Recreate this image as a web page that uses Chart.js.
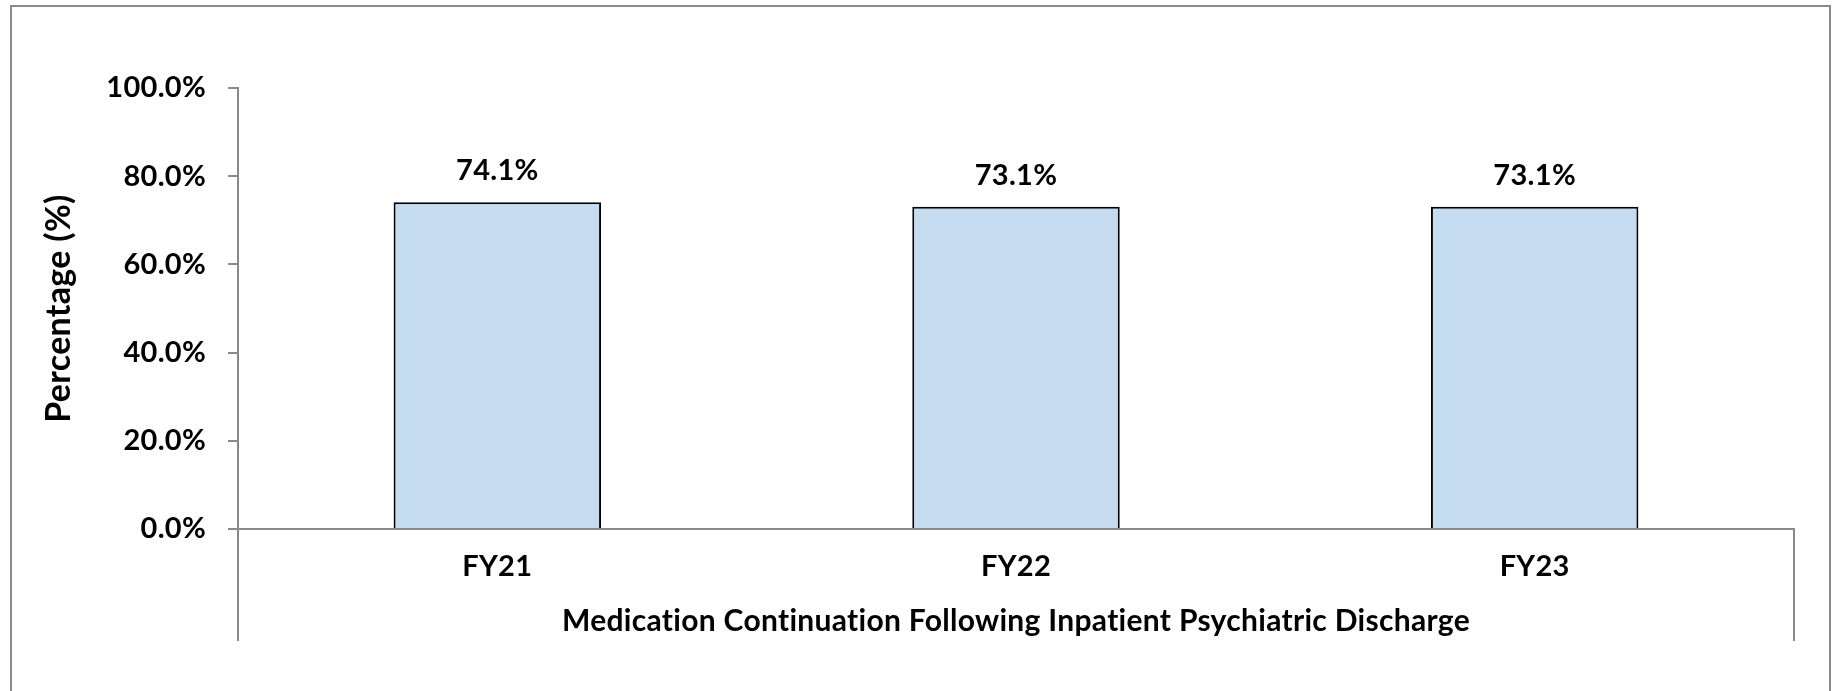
<!DOCTYPE html>
<html>
<head>
<meta charset="utf-8">
<script src="https://cdn.jsdelivr.net/npm/chart.js@4.4.0/dist/chart.umd.min.js"></script>
<style>
    html, body { margin: 0; padding: 0; background: #fff; overflow: hidden; }
    #wrap { position: relative; width: 1837px; height: 691px; }
    #frame {
        position: absolute; left: 10px; top: 5px; width: 1821px; height: 720px;
        border: 2px solid #8a8a8a; border-bottom: none; box-sizing: border-box;
    }
    canvas { position: absolute; left: 0; top: 0; }
</style>
</head>
<body>
<div id="wrap">
    <div id="frame"></div>
    <canvas id="chart" width="1837" height="691"></canvas>
</div>
<script>
const categories = ['FY21', 'FY22', 'FY23'];
const rates = [74.1, 73.1, 73.1];
const yTickValues = [0, 20, 40, 60, 80, 100];
const xTitle = 'Medication Continuation Following Inpatient Psychiatric Discharge';
const yTitle = 'Percentage (%)';

const axisGray = '#8a8a8a';
const family = 'Lato, "Open Sans", sans-serif';
const font = { family: family, size: 29, weight: 'bold', lineHeight: 1.2 };
const xTitleFont = { family: family, size: 30, weight: 'bold', lineHeight: 1.2 };
const yTitleFont = { family: family, size: 34, weight: 'bold', lineHeight: 1.2 };

// a touch of letter spacing keeps Lato from using its "ti" ligature
const spacing = {
    id: 'spacing',
    beforeDraw(chart) { chart.ctx.letterSpacing = '0.3px'; }
};

// value labels above the bars
const barLabels = {
    id: 'barLabels',
    afterDatasetsDraw(chart) {
        const ctx = chart.ctx;
        const meta = chart.getDatasetMeta(0);
        ctx.save();
        ctx.font = `bold ${font.size}px ${font.family}`;
        ctx.fillStyle = '#000';
        ctx.textAlign = 'center';
        ctx.textBaseline = 'alphabetic';
        meta.data.forEach((bar, i) => {
            ctx.fillText(rates[i].toFixed(1) + '%', bar.x, bar.y - 22);
        });
        ctx.restore();
    }
};

// the category axis box lines running down past the labels
const categoryBox = {
    id: 'categoryBox',
    afterDraw(chart) {
        const { ctx, chartArea } = chart;
        ctx.save();
        ctx.strokeStyle = axisGray;
        ctx.lineWidth = 2;
        ctx.beginPath();
        [chartArea.left, chartArea.right].forEach(x => {
            ctx.moveTo(x, chartArea.bottom);
            ctx.lineTo(x, chartArea.bottom + 112);
        });
        ctx.stroke();
        ctx.restore();
    }
};

new Chart(document.getElementById('chart'), {
    type: 'bar',
    data: {
        labels: categories,
        datasets: [{
            data: rates,
            backgroundColor: '#c5dbef',
            borderColor: '#000',
            borderWidth: 2,
            barPercentage: 0.4,
            categoryPercentage: 1.0
        }]
    },
    options: {
        responsive: false,
        animation: false,
        events: [],
        layout: { padding: { left: 0, right: 43, top: 88, bottom: 0 } },
        plugins: {
            legend: { display: false },
            tooltip: { enabled: false }
        },
        scales: {
            x: {
                grid: { display: false, drawTicks: false },
                border: { display: true, color: axisGray, width: 2 },
                ticks: { color: '#000', font: font, padding: 20 },
                title: {
                    display: true, text: xTitle, color: '#000', font: xTitleFont,
                    padding: { top: 0, bottom: 51.8 }
                },
                afterFit(scale) { scale.height = 162; }
            },
            y: {
                min: 0,
                max: 100,
                afterBuildTicks(scale) {
                    scale.ticks = yTickValues.map(v => ({ value: v }));
                },
                grid: {
                    display: true, drawOnChartArea: false, drawTicks: true,
                    tickLength: 10, color: axisGray, lineWidth: 2
                },
                border: { display: true, color: axisGray, width: 2 },
                ticks: {
                    color: '#000', font: font, padding: 22,
                    callback: v => v.toFixed(1) + '%'
                },
                title: {
                    display: true, text: yTitle, color: '#000', font: yTitleFont,
                    padding: { top: 38.6, bottom: 0 }
                },
                afterFit(scale) { scale.width = 238; }
            }
        }
    },
    plugins: [spacing, barLabels, categoryBox]
});
</script>
</body>
</html>
